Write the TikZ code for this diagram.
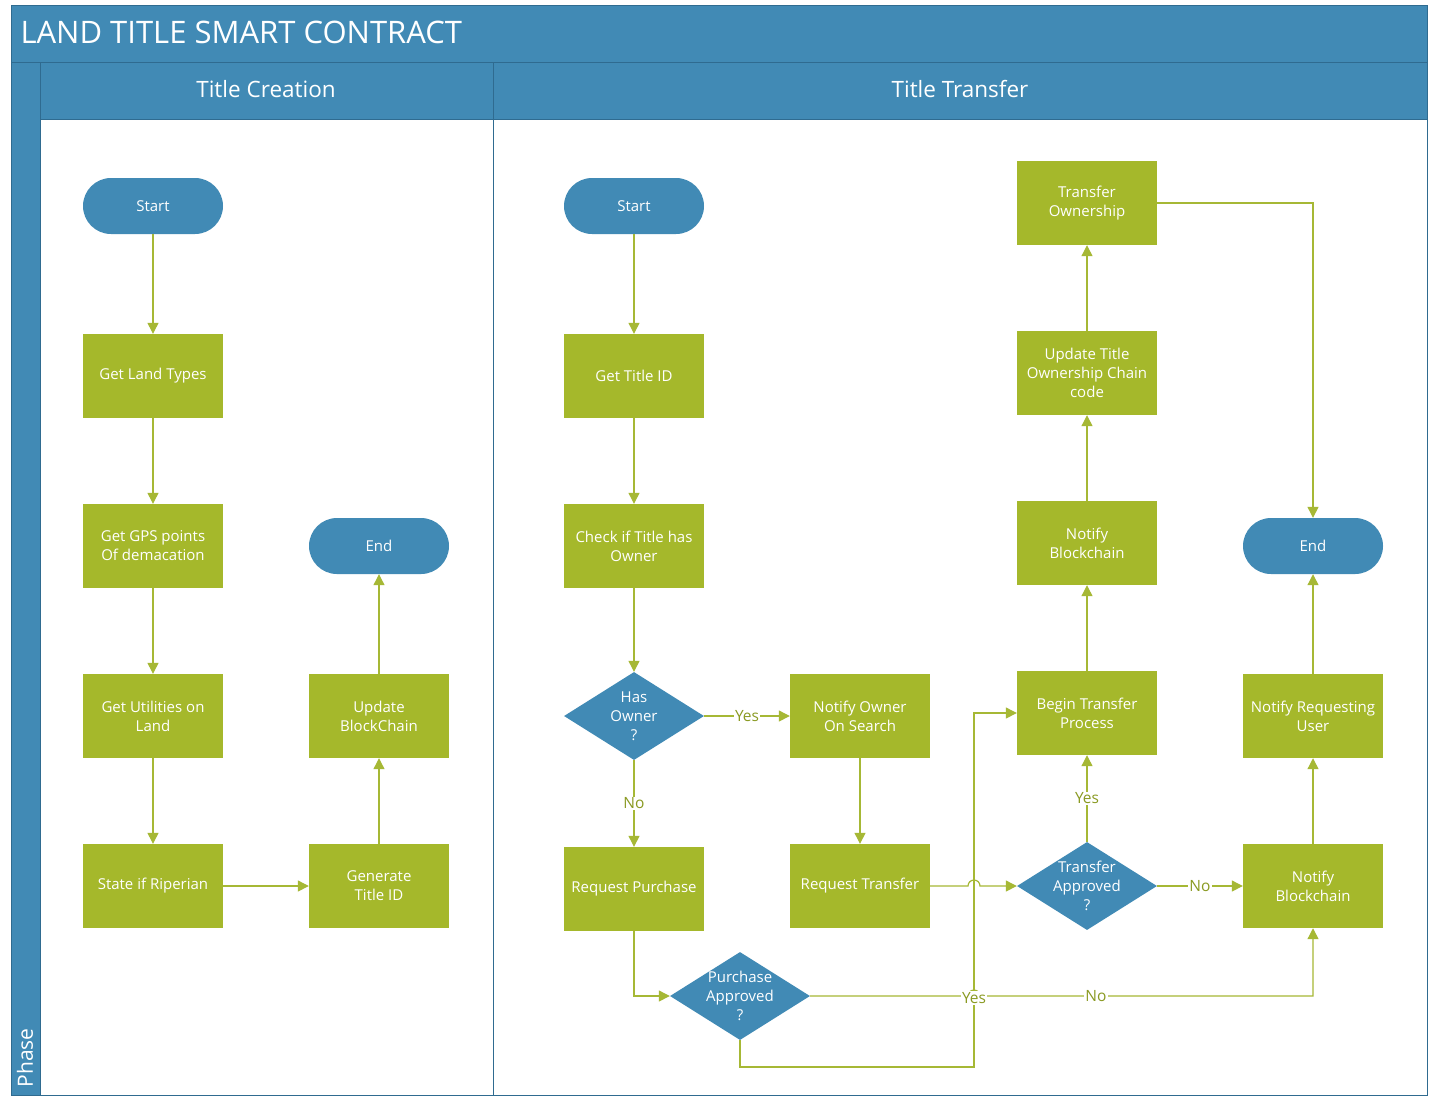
\documentclass[tikz,border=0pt]{standalone}
\usepackage{fontspec}
\setmainfont{Open Sans}
\usetikzlibrary{arrows.meta,shapes.geometric}
\definecolor{laneblue}{HTML}{418AB5}
\definecolor{edgeblue}{HTML}{2F6B90}
\definecolor{boxgreen}{HTML}{A5B82B}
\definecolor{linegreen}{HTML}{A6B835}
\definecolor{labelgreen}{HTML}{8A9A22}
\tikzset{
  procbox/.style={rectangle, fill=boxgreen, minimum width=140pt, minimum height=84pt,
    text=white, align=center, font=\fontsize{15}{19}\selectfont, inner sep=2pt},
  termbox/.style={rectangle, rounded corners=28pt, fill=laneblue, minimum width=140pt, minimum height=56pt,
    text=white, align=center, font=\fontsize{15}{19}\selectfont},
  decbox/.style={diamond, fill=laneblue, minimum width=140pt, minimum height=88pt, aspect=1.6,
    text=white, align=center, font=\fontsize{15}{19}\selectfont, inner sep=-6pt},
  flow/.style={draw=linegreen, line width=1.2pt, -{Triangle[length=11pt,width=11pt]}},
  plain/.style={draw=linegreen, line width=1.2pt},
  elabel/.style={fill=white, text=labelgreen, font=\fontsize{15.5}{17}\selectfont, inner sep=1pt},
  hdrtext/.style={text=white, font=\fontsize{22.5}{26}\selectfont},
}
\begin{document}
\begin{tikzpicture}[x=1pt,y=-1pt]
\useasboundingbox (0,0) rectangle (1429,1104);
\fill[white] (0,0) rectangle (1429,1104);

% pool frame, title bar, phase column and lane headers
\fill[laneblue] (11,5) rectangle (1427,62);
\fill[laneblue] (11,62) rectangle (40,1095);
\fill[laneblue] (40,62) rectangle (1427,119);
\draw[edgeblue, line width=1pt] (11,5) rectangle (1427,1095);
\draw[edgeblue, line width=1pt] (11,62) -- (1427,62);
\draw[edgeblue, line width=1pt] (40,62) -- (40,1095);
\draw[edgeblue, line width=1pt] (40,119) -- (1427,119);
\draw[edgeblue, line width=1pt] (493,62) -- (493,1095);
\node[anchor=west, text=white, font=\fontsize{31}{34}\selectfont] (title) at (17,32) {LAND TITLE SMART CONTRACT};
\node[hdrtext] (lane1) at (266,89) {Title Creation};
\node[hdrtext] (lane2) at (960,89) {Title Transfer};
\node[rotate=90, anchor=west, text=white, font=\fontsize{21}{24}\selectfont] (phase) at (25,1091) {Phase};

% Title Creation lane
\node[termbox] (s1) at (153,206) {Start};
\node[procbox] (land) at (153,376) {Get Land Types};
\node[procbox] (gps) at (153,546) {Get GPS points\\Of demacation};
\node[procbox] (util) at (153,716) {Get Utilities on\\Land};
\node[procbox] (rip) at (153,886) {State if Riperian};
\node[procbox] (gen) at (379,886) {Generate\\Title ID};
\node[procbox] (upd) at (379,716) {Update\\BlockChain};
\node[termbox] (e1) at (379,546) {End};

\draw[flow] (s1) -- (land);
\draw[flow] (land) -- (gps);
\draw[flow] (gps) -- (util);
\draw[flow] (util) -- (rip);
\draw[flow] (rip) -- (gen);
\draw[flow] (gen) -- (upd);
\draw[flow] (upd) -- (e1);

% Title Transfer lane
\node[termbox] (s2) at (634,206) {Start};
\node[procbox] (tid) at (634,376) {Get Title ID};
\node[procbox] (chk) at (634,546) {Check if Title has\\Owner};
\node[decbox] (has) at (634,716) {Has\\Owner\\?};
\node[procbox] (rpur) at (634,889) {Request Purchase};
\node[procbox] (nown) at (860,716) {Notify Owner\\On Search};
\node[procbox] (rtr) at (860,886) {Request Transfer};
\node[decbox] (papp) at (740,996) {Purchase\\Approved\\?};
\node[decbox] (tapp) at (1087,886) {Transfer\\Approved\\?};
\node[procbox] (btp) at (1087,713) {Begin Transfer\\Process};
\node[procbox] (nbc1) at (1087,543) {Notify\\Blockchain};
\node[procbox] (utoc) at (1087,373) {Update Title\\Ownership Chain\\code};
\node[procbox] (tow) at (1087,203) {Transfer\\Ownership};
\node[termbox] (e2) at (1313,546) {End};
\node[procbox] (nru) at (1313,716) {Notify Requesting\\User};
\node[procbox] (nbc2) at (1313,886) {Notify\\Blockchain};

\coordinate (jog) at (974,1067);

\draw[flow] (s2) -- (tid);
\draw[flow] (tid) -- (chk);
\draw[flow] (chk) -- (has);
\draw[flow] (has) -- node[elabel] {Yes} (nown);
\draw[flow] (has) -- node[elabel] {No} (rpur);
\draw[flow] (nown) -- (rtr);
\draw[flow] (rtr.east) -- (968,886) arc[start angle=180, end angle=0, radius=6pt] -- (tapp.west);
\draw[flow] (rpur.south) |- (papp.west);
\draw[flow] (papp.south) |- (jog) |- (btp.west);
\draw[flow] (papp.east) -- (968,996) arc[start angle=180, end angle=0, radius=6pt] -- (1313,996) -- (nbc2.south);
\node[elabel] (nolbl) at (1096,996) {No};
\node[elabel] (yeslbl) at (974,998) {Yes};
\draw[flow] (tapp) -- node[elabel] {Yes} (btp);
\draw[flow] (tapp) -- node[elabel] {No} (nbc2);
\draw[flow] (btp) -- (nbc1);
\draw[flow] (nbc1) -- (utoc);
\draw[flow] (utoc) -- (tow);
\draw[flow] (tow.east) -| (e2.north);
\draw[flow] (nbc2) -- (nru);
\draw[flow] (nru) -- (e2);
\end{tikzpicture}
\end{document}
